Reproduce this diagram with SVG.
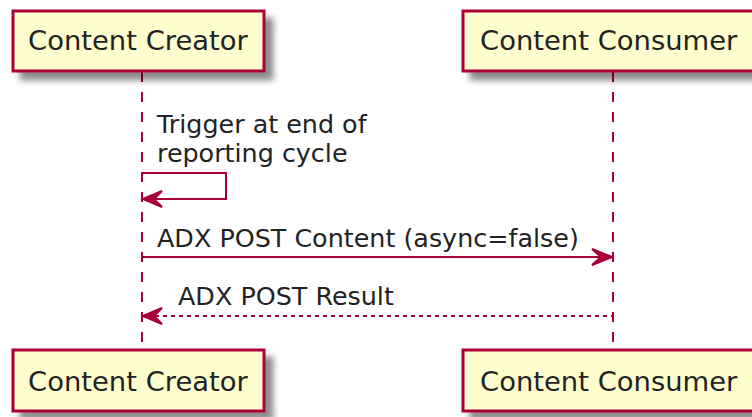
<svg xmlns="http://www.w3.org/2000/svg" width="752" height="417" viewBox="0 0 752 417">
<style>
.box{fill:#FEFECE;stroke:#A80036;stroke-width:3}
.pt{font-family:"DejaVu Sans",sans-serif;font-size:27.4px;fill:#222}
.mt{font-family:"DejaVu Sans",sans-serif;font-size:25.4px;fill:#222}
.life{stroke:#A80036;stroke-width:2;stroke-dasharray:10,10;fill:none}
.msg{stroke:#A80036;stroke-width:2;fill:none}
.ret{stroke:#A80036;stroke-width:2;fill:none;stroke-dasharray:4,4}
.head{fill:#A80036;stroke:#A80036;stroke-width:2}
</style>
<defs>
<filter id="sh" x="-10%" y="-20%" width="130%" height="160%">
<feGaussianBlur in="SourceAlpha" stdDeviation="3"/>
<feOffset dx="8" dy="8" result="b"/>
<feComponentTransfer><feFuncA type="linear" slope="0.45"/></feComponentTransfer>
<feMerge><feMergeNode/><feMergeNode in="SourceGraphic"/></feMerge>
</filter>
</defs>
<g id="lifelines">
<line class="life" x1="142" y1="72" x2="142" y2="350"/>
<line class="life" x1="613" y1="72" x2="613" y2="350"/>
</g>
<g id="creator-top">
<rect class="box" x="13" y="11" width="251" height="60" filter="url(#sh)"/>
<text class="pt" x="28" y="50">Content Creator</text>
</g>
<g id="consumer-top">
<rect class="box" x="463" y="11" width="296" height="60" filter="url(#sh)"/>
<text class="pt" x="480" y="50">Content Consumer</text>
</g>
<g id="creator-bottom">
<rect class="box" x="13" y="350" width="251" height="61" filter="url(#sh)"/>
<text class="pt" x="28" y="391">Content Creator</text>
</g>
<g id="consumer-bottom">
<rect class="box" x="463" y="350" width="296" height="61" filter="url(#sh)"/>
<text class="pt" x="480" y="391">Content Consumer</text>
</g>
<g id="connectors">
<polyline class="msg" points="143,173 226,173 226,199 145,199"/>
<polygon class="head" points="143,199 162,191 154,199 162,207"/>
<text class="mt" x="157" y="133">Trigger at end of</text>
<text class="mt" x="157" y="162">reporting cycle</text>
<line class="msg" x1="143" y1="257" x2="609" y2="257"/>
<polygon class="head" points="612,257 592,249 601,257 592,265"/>
<text class="mt" x="157" y="247">ADX POST Content (async=false)</text>
<line class="ret" x1="147" y1="316" x2="613" y2="316"/>
<polygon class="head" points="143,316 162,308 154,316 162,324"/>
<text class="mt" x="178" y="305">ADX POST Result</text>
</g>
</svg>
